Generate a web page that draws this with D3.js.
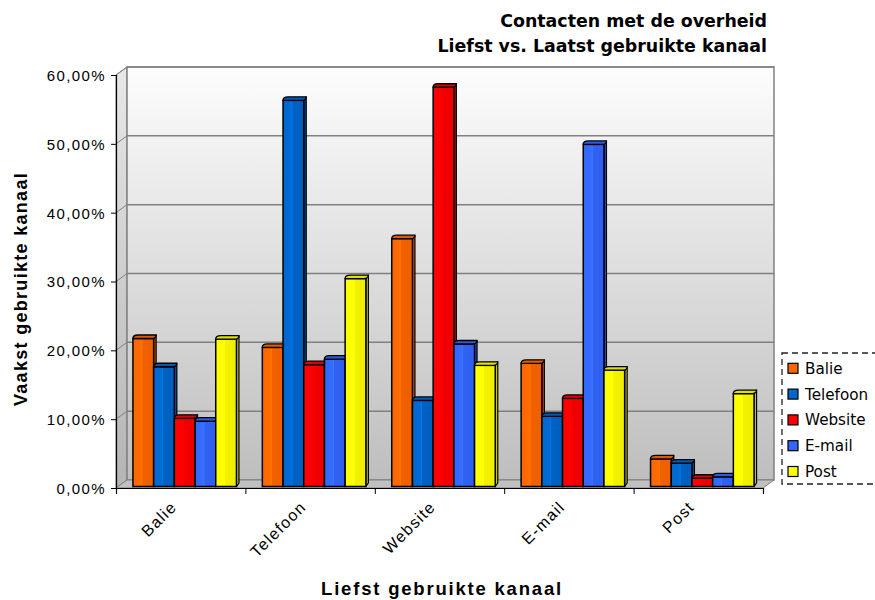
<!DOCTYPE html>
<html><head><meta charset="utf-8">
<script src="https://cdn.jsdelivr.net/npm/d3@7"></script>
<style>body{margin:0;background:#fff;} svg{display:block;}</style>
</head><body>
<svg id="chart" width="875" height="600"></svg>
<script>
// ---- data ----
const categories = ["Balie", "Telefoon", "Website", "E-mail", "Post"];
const seriesNames = ["Balie", "Telefoon", "Website", "E-mail", "Post"];
const balieValues    = [21.5, 20.2, 36.0, 17.9, 4.0];
const telefoonValues = [17.4, 56.1, 12.5, 10.2, 3.4];
const websiteValues  = [9.9, 17.7, 58.0, 12.8, 1.2];
const emailValues    = [9.5, 18.5, 20.7, 49.7, 1.4];
const postValues     = [21.4, 30.2, 17.6, 16.9, 13.5];
const yTicks = [0, 10, 20, 30, 40, 50, 60];
const titleLines = ["Contacten met de overheid", "Liefst vs. Laatst gebruikte kanaal"];
const yTitle = "Vaakst gebruikte kanaal";
const xTitle = "Liefst gebruikte kanaal";

const seriesValues = [balieValues, telefoonValues, websiteValues, emailValues, postValues];
const colors = ["#FF6600", "#0066CC", "#FF0000", "#3366FF", "#FFFF00"];

// ---- layout ----
const svg = d3.select("#chart");
const X0 = 116, X1 = 763, DX = 11, DY = -8;
const BX = 4, BY = -1.5;
const x = d3.scaleBand().domain(categories).range([X0, X1]).paddingInner(0.2).paddingOuter(0.1);
const xs = d3.scaleBand().domain(seriesNames).range([0, x.bandwidth()]);
const y = d3.scaleLinear().domain([0, 60]).range([488, 75]);
const color = d3.scaleOrdinal().domain(seriesNames).range(colors);
const fmt = d3.formatLocale({decimal: ",", thousands: ".", grouping: [3], currency: ["€", ""]}).format(".2f");
const ARIAL = "'Liberation Sans', Arial, sans-serif";

const defs = svg.append("defs");
const wallG = defs.append("linearGradient").attr("id", "wall").attr("x1", 0).attr("y1", 0).attr("x2", 0).attr("y2", 1);
wallG.append("stop").attr("offset", "0%").attr("stop-color", "#FDFDFD");
wallG.append("stop").attr("offset", "100%").attr("stop-color", "#BEBEBE");
const sideG = defs.append("linearGradient").attr("id", "side").attr("x1", 0).attr("y1", 0).attr("x2", 0).attr("y2", 1);
sideG.append("stop").attr("offset", "0%").attr("stop-color", "#E8E8E8");
sideG.append("stop").attr("offset", "100%").attr("stop-color", "#B4B4B4");

seriesNames.forEach((s, i) => {
  const c = d3.color(color(s));
  const g = defs.append("linearGradient").attr("id", "bar" + i).attr("x1", 0).attr("y1", 0).attr("x2", 1).attr("y2", 0);
  g.append("stop").attr("offset", "0%").attr("stop-color", c.formatHex());
  g.append("stop").attr("offset", "38%").attr("stop-color", c.brighter(0.15).formatHex());
  g.append("stop").attr("offset", "44%").attr("stop-color", c.brighter(0.4).formatHex());
  g.append("stop").attr("offset", "47%").attr("stop-color", c.darker(0.15).formatHex());
  g.append("stop").attr("offset", "100%").attr("stop-color", c.darker(0.2).formatHex());
});

const yTop = y(60), yBot = y(0);
// left wall
svg.append("polygon")
  .attr("points", [[X0, yTop], [X0 + DX, yTop + DY], [X0 + DX, yBot + DY], [X0, yBot]].join(" "))
  .attr("fill", "url(#side)").attr("stroke", "#808080").attr("stroke-width", 1);
// back wall
svg.append("rect")
  .attr("x", X0 + DX).attr("y", yTop + DY).attr("width", X1 - X0).attr("height", yBot - yTop)
  .attr("fill", "url(#wall)").attr("stroke", "#808080").attr("stroke-width", 1.5);
// floor
svg.append("polygon")
  .attr("points", [[X0, yBot], [X0 + DX, yBot + DY], [X1 + DX, yBot + DY], [X1, yBot]].join(" "))
  .attr("fill", "#C0C0C0").attr("stroke", "#808080").attr("stroke-width", 1);

// gridlines
const grid = svg.append("g");
yTicks.filter(t => t > 0).forEach(t => {
  grid.append("line").attr("x1", X0 + DX).attr("x2", X1 + DX).attr("y1", y(t) + DY).attr("y2", y(t) + DY)
    .attr("stroke", "#808080").attr("stroke-width", 1.5);
  grid.append("line").attr("x1", X0).attr("x2", X0 + DX).attr("y1", y(t)).attr("y2", y(t) + DY)
    .attr("stroke", "#808080").attr("stroke-width", 1);
});

// bars
const bars = svg.append("g");
categories.forEach((cat, ci) => {
  seriesNames.forEach((s, si) => {
    const v = seriesValues[si][ci];
    const x0 = x(cat) + xs(s) + BX, w = xs.bandwidth();
    const yt = y(v) + BY, yb = y(0) + BY;
    const c = d3.color(color(s));
    const g = bars.append("g");
    g.append("polygon")
      .attr("points", [[x0 + w, yt], [x0 + w + 2.5, yt - 3.5], [x0 + w + 2.5, yb - 3.5], [x0 + w, yb]].join(" "))
      .attr("fill", c.darker(0.6).formatHex()).attr("stroke", "#000").attr("stroke-width", 1.2).attr("stroke-linejoin", "round");
    g.append("rect").attr("x", x0).attr("y", yt).attr("width", w).attr("height", yb - yt)
      .attr("fill", `url(#bar${si})`).attr("stroke", "#000").attr("stroke-width", 1.5);
    g.append("path")
      .attr("d", `M${x0},${yt} C${x0},${yt - 2.5} ${x0 + 2},${yt - 3.5} ${x0 + 5},${yt - 3.5} L${x0 + w + 2.5},${yt - 3.5} C${x0 + w + 2.5},${yt - 1.5} ${x0 + w + 1},${yt} ${x0 + w - 2},${yt} Z`)
      .attr("fill", c.darker(0.35).formatHex()).attr("stroke", "#000").attr("stroke-width", 1.3).attr("stroke-linejoin", "round");
  });
});

// y axis
const yAxis = svg.append("g").attr("transform", `translate(${X0},0)`)
  .call(d3.axisLeft(y).tickValues(yTicks).tickSize(5).tickPadding(5).tickFormat(d => fmt(d) + "%"));
yAxis.select(".domain").attr("stroke", "#000").attr("stroke-width", 1.2);
yAxis.selectAll(".tick line").attr("stroke", "#000");
yAxis.selectAll(".tick text").attr("font-family", ARIAL)
  .attr("font-size", 15).attr("fill", "#000").attr("letter-spacing", "1.4px").attr("dy", "0.36em");

// x axis (ticks at category boundaries)
const xb = d3.scaleLinear().domain([0, categories.length]).range([X0, X1]);
const xAxis = svg.append("g").attr("transform", `translate(0,${yBot})`)
  .call(d3.axisBottom(xb).tickValues(d3.range(categories.length + 1)).tickSize(6).tickFormat(""));
xAxis.select(".domain").attr("stroke", "#000").attr("stroke-width", 1.2);
xAxis.selectAll(".tick line").attr("stroke", "#000");

// category labels
svg.append("g").selectAll("text").data(categories).join("text")
  .attr("transform", d => `translate(${x(d) + x.bandwidth() / 2 - 3},${yBot + 20}) rotate(-45)`)
  .attr("text-anchor", "end")
  .attr("font-family", ARIAL).attr("font-size", 16)
  .attr("letter-spacing", "1.3px")
  .text(d => d);

// titles
svg.append("text").attr("x", 767).attr("text-anchor", "end")
  .attr("font-family", "'DejaVu Sans', Verdana, sans-serif").attr("font-weight", "bold").attr("font-size", 17.4)
  .selectAll("tspan").data(titleLines).join("tspan")
  .attr("x", 767).attr("y", (d, i) => 26.5 + i * 25.5).text(d => d);

svg.append("text")
  .attr("transform", `translate(26.5,289) rotate(-90)`)
  .attr("text-anchor", "middle")
  .attr("font-family", ARIAL).attr("font-weight", "bold").attr("font-size", 18)
  .attr("letter-spacing", "1.3px")
  .text(yTitle);

svg.append("text")
  .attr("x", 442).attr("y", 595)
  .attr("text-anchor", "middle")
  .attr("font-family", ARIAL).attr("font-weight", "bold").attr("font-size", 18.5)
  .attr("letter-spacing", "1.8px")
  .text(xTitle);

// legend
const lg = svg.append("g");
lg.append("rect").attr("x", 782).attr("y", 353).attr("width", 110).attr("height", 131)
  .attr("fill", "#fff").attr("stroke", "#222").attr("stroke-width", 1.3).attr("stroke-dasharray", "6,4");
seriesNames.forEach((s, i) => {
  const cy = 368.3 + i * 25.8;
  lg.append("rect").attr("x", 788).attr("y", cy - 5).attr("width", 10).attr("height", 10)
    .attr("fill", color(s)).attr("stroke", "#000").attr("stroke-width", 1.2);
  lg.append("text").attr("x", 805).attr("y", cy).attr("dy", "0.36em")
    .attr("font-family", "'DejaVu Sans', Verdana, sans-serif").attr("font-size", 15.2)
    .text(s);
});
</script>
</body></html>
